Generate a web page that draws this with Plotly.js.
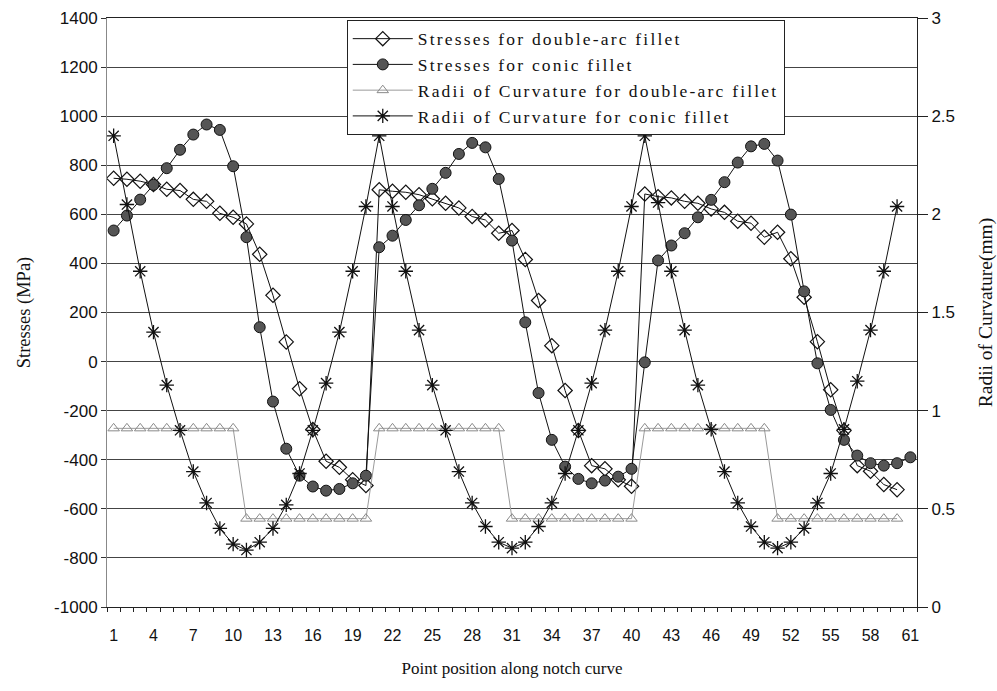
<!DOCTYPE html>
<html>
<head>
<meta charset="utf-8">
<script src="https://cdn.plot.ly/plotly-3.0.1.min.js"></script>
<style>
html,body{margin:0;padding:0;background:#fff;}
#chart{width:997px;height:691px;}
text.legendtext{letter-spacing:2.2px;}
</style>
</head>
<body>
<div id="chart"></div>
<script>
// Point positions along the notch curve (1..61)
var points = [1,2,3,4,5,6,7,8,9,10,11,12,13,14,15,16,17,18,19,20,21,22,23,24,25,26,27,28,29,30,31,32,33,34,35,36,37,38,39,40,41,42,43,44,45,46,47,48,49,50,51,52,53,54,55,56,57,58,59,60,61];

// x-axis tick labels
var tickLabels = [1,4,7,10,13,16,19,22,25,28,31,34,37,40,43,46,49,52,55,58,61];

// left axis tick labels (stresses, MPa)
var stressTicks = [-1000,-800,-600,-400,-200,0,200,400,600,800,1000,1200,1400];

// right axis tick labels (radii, mm)
var radiusTicks = [0,0.5,1,1.5,2,2.5,3];

// Stresses for double-arc fillet (MPa), points 1..60
var stressDoubleArc = [747,743,735,722,702,697,661,653,604,588,561,437,270,80,-111,-277,-406,-431,-481,-505,
  700,694,690,680,663,645,626,591,577,523,534,416,249,65,-118,-281,-424,-437,-482,-508,
  683,672,667,653,645,622,608,572,564,507,527,419,262,81,-115,-281,-424,-447,-501,-522];

// Stresses for conic fillet (MPa), points 1..61
var stressConic = [534,595,660,720,788,863,925,966,944,796,507,140,-163,-355,-465,-509,-526,-519,-496,-465,
  466,513,577,637,704,769,846,891,873,744,493,160,-128,-319,-428,-478,-496,-485,-469,-437,
  -3,412,473,523,588,659,731,811,877,887,819,599,286,-7,-197,-319,-383,-414,-424,-414,-390];

// Radii of curvature for double-arc fillet (mm), points 1..60
var radiiDoubleArc = [0.91,0.91,0.91,0.91,0.91,0.91,0.91,0.91,0.91,0.91,0.45,0.45,0.45,0.45,0.45,0.45,0.45,0.45,0.45,0.45,
  0.91,0.91,0.91,0.91,0.91,0.91,0.91,0.91,0.91,0.91,0.45,0.45,0.45,0.45,0.45,0.45,0.45,0.45,0.45,0.45,
  0.91,0.91,0.91,0.91,0.91,0.91,0.91,0.91,0.91,0.91,0.45,0.45,0.45,0.45,0.45,0.45,0.45,0.45,0.45,0.45];

// Radii of curvature for conic fillet (mm), points 1..60
var radiiConic = [2.40,2.05,1.71,1.40,1.13,0.90,0.69,0.53,0.40,0.32,0.29,0.33,0.40,0.52,0.68,0.90,1.14,1.40,1.71,2.04,
  2.40,2.04,1.71,1.41,1.13,0.90,0.69,0.53,0.41,0.33,0.30,0.33,0.41,0.53,0.68,0.90,1.14,1.41,1.71,2.04,
  2.40,2.06,1.71,1.41,1.13,0.905,0.69,0.53,0.41,0.33,0.30,0.33,0.40,0.53,0.68,0.905,1.15,1.41,1.71,2.04];

var serif = 'Liberation Serif, Times New Roman, serif';
var sans = 'Liberation Sans, Arial, sans-serif';

var traces = [
  {
    x: points.slice(0, stressDoubleArc.length), y: stressDoubleArc,
    name: 'Stresses for double-arc fillet', type: 'scatter', mode: 'lines+markers',
    line: {color: '#111', width: 1},
    marker: {symbol: 'diamond-open', size: 11, color: '#111', line: {width: 1.2, color: '#111'}},
    yaxis: 'y'
  },
  {
    x: points.slice(0, stressConic.length), y: stressConic,
    name: 'Stresses for conic fillet', type: 'scatter', mode: 'lines+markers',
    line: {color: '#111', width: 1},
    marker: {symbol: 'circle', size: 11, color: '#555', line: {width: 1, color: '#111'}},
    yaxis: 'y'
  },
  {
    x: points.slice(0, radiiDoubleArc.length), y: radiiDoubleArc,
    name: 'Radii of Curvature for double-arc fillet', type: 'scatter', mode: 'lines+markers',
    line: {color: '#9a9a9a', width: 1},
    marker: {symbol: 'triangle-up-open', size: 10, color: '#8a8a8a', line: {width: 1, color: '#8a8a8a'}},
    yaxis: 'y2'
  },
  {
    x: points.slice(0, radiiConic.length), y: radiiConic,
    name: 'Radii of Curvature for conic fillet', type: 'scatter', mode: 'lines+markers',
    line: {color: '#111', width: 1},
    marker: {symbol: 'asterisk-open', size: 12, color: '#111', line: {width: 1.3, color: '#111'}},
    yaxis: 'y2'
  }
];

var layout = {
  width: 997, height: 691,
  margin: {l: 107, r: 80, t: 18, b: 84},
  paper_bgcolor: '#fff', plot_bgcolor: '#fff',
  showlegend: true,
  legend: {
    x: 0.296, y: 0.997, xanchor: 'left', yanchor: 'top',
    bgcolor: '#fff', bordercolor: '#222', borderwidth: 1,
    font: {family: serif, size: 17.5, color: '#111'},
    itemwidth: 60, tracegroupgap: 0
  },
  xaxis: {
    range: [0.5, 61.5],
    tickmode: 'array', tickvals: tickLabels, ticktext: tickLabels.map(String),
    ticks: 'outside', ticklen: 14, tickcolor: 'rgba(0,0,0,0)',
    minor: {tickmode: 'linear', tick0: 0.5, dtick: 1, ticks: 'outside', ticklen: 4, tickcolor: '#222', showgrid: false},
    showgrid: false, zeroline: false,
    showline: true, linecolor: '#222', linewidth: 1, mirror: true,
    tickfont: {family: sans, size: 16, color: '#111'},
    title: {text: 'Point position along notch curve', font: {family: serif, size: 17, color: '#111'}, standoff: 18}
  },
  yaxis: {
    range: [-1000, 1400],
    tickmode: 'array', tickvals: stressTicks, ticktext: stressTicks.map(String),
    ticks: 'outside', ticklen: 5, tickcolor: '#333',
    showgrid: true, gridcolor: '#444', gridwidth: 1, zeroline: false,
    showline: true, linecolor: '#888', linewidth: 1,
    tickfont: {family: sans, size: 17, color: '#111'},
    title: {text: 'Stresses (MPa)', font: {family: serif, size: 18.5, color: '#111'}, standoff: 18}
  },
  yaxis2: {
    range: [0, 3], overlaying: 'y', side: 'right',
    tickmode: 'array', tickvals: radiusTicks, ticktext: radiusTicks.map(String),
    ticks: 'outside', ticklen: 10, tickcolor: '#222',
    showgrid: false, zeroline: false,
    showline: true, linecolor: '#222', linewidth: 1,
    tickfont: {family: sans, size: 17, color: '#111'},
    title: {text: 'Radii of Curvature(mm)', font: {family: serif, size: 19.5, color: '#111'}, standoff: 24}
  }
};

Plotly.newPlot('chart', traces, layout, {displayModeBar: false, staticPlot: true});
</script>
</body>
</html>
